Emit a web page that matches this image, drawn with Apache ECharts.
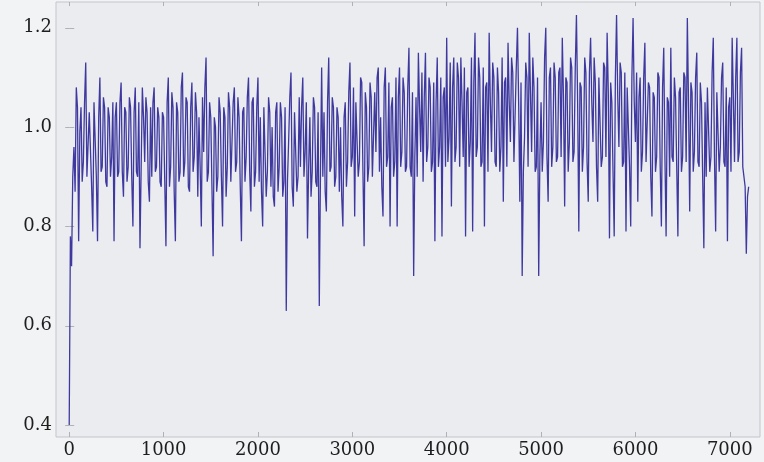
<!DOCTYPE html>
<html>
<head>
<meta charset="utf-8">
<script src="https://cdn.jsdelivr.net/npm/echarts@6/dist/echarts.min.js"></script>
<style>
  html, body { margin: 0; padding: 0; background: #f2f3f5; }
  #chart { width: 764px; height: 462px; }
</style>
</head>
<body>
<div id="chart"></div>
<script>
// values, 1000 steps per segment.
// "a" arrays sit on multiples of 25, "b" arrays halfway between them
const step = 12.5;
const seg0a = [0.40, 0.72, 0.96, 1.08, 0.77, 1.04, 0.93, 1.13, 0.90, 1.03,
  0.79, 1.05, 0.77, 1.10, 0.92, 1.04, 0.88, 1.02, 0.94, 0.77,
  1.05, 0.91, 1.09, 0.86, 1.03, 0.92, 1.04, 0.80, 1.08, 0.90,
  0.756, 1.08, 0.93, 1.03, 0.85, 0.90, 1.08, 0.92, 1.02, 0.88];
const seg0b = [0.78, 0.90, 0.87, 1.04, 0.99, 0.89, 1.05, 0.90, 1.03, 0.88,
  1.05, 0.90, 1.02, 0.91, 1.06, 0.89, 1.04, 0.90, 1.05, 1.02,
  0.90, 1.05, 0.91, 1.04, 0.89, 1.06, 0.90, 1.03, 0.91, 1.05,
  0.92, 1.02, 1.06, 0.89, 1.04, 1.05, 0.91, 1.04, 0.89, 1.03];
const seg1a = [1.02, 0.76, 1.10, 0.92, 1.04, 0.77, 1.03, 0.91, 1.11, 0.93,
  1.05, 0.87, 1.09, 0.94, 1.03, 1.02, 0.80, 0.95, 1.14, 0.91,
  1.02, 0.74, 1.00, 0.90, 1.03, 0.80, 1.02, 0.92, 1.04, 0.89,
  1.08, 0.93, 1.02, 0.77, 1.04, 0.94, 1.10, 0.83, 1.06, 0.91];
const seg1b = [0.89, 1.05, 0.88, 1.07, 0.87, 1.05, 0.89, 1.08, 0.90, 1.06,
  0.88, 1.04, 0.91, 1.07, 0.86, 0.92, 1.06, 1.08, 0.89, 1.05,
  0.88, 1.02, 0.87, 1.06, 0.90, 1.04, 0.86, 1.07, 0.89, 1.05,
  0.91, 1.06, 0.88, 1.03, 0.89, 1.06, 0.91, 1.05, 0.88, 1.04];
const seg2a = [1.10, 1.02, 0.80, 1.04, 0.91, 1.03, 1.00, 0.84, 1.05, 0.92,
  1.02, 0.89, 0.63, 0.97, 1.11, 0.84, 1.03, 0.90, 0.92, 1.10,
  0.95, 0.776, 1.02, 0.91, 1.04, 0.88, 0.64, 1.12, 1.03, 0.83,
  1.14, 0.92, 1.04, 0.90, 1.02, 1.00, 0.80, 1.05, 0.93, 1.13];
const seg2b = [0.89, 0.87, 1.04, 0.86, 1.06, 0.88, 0.86, 1.03, 0.87, 1.05,
  0.86, 1.04, 0.89, 1.06, 0.88, 1.03, 0.87, 1.06, 1.04, 0.90,
  1.05, 0.92, 0.86, 1.06, 0.89, 1.03, 0.91, 0.90, 0.87, 1.05,
  0.91, 1.06, 0.88, 1.04, 0.87, 0.86, 1.02, 0.88, 1.07, 0.92];
const seg3a = [0.94, 0.82, 1.05, 0.93, 1.09, 0.76, 1.04, 0.92, 1.06, 0.90,
  0.95, 1.12, 1.02, 0.82, 1.12, 0.94, 0.80, 1.06, 0.93, 0.80,
  1.12, 0.95, 1.07, 0.92, 1.16, 0.90, 0.70, 1.06, 1.15, 0.95,
  0.89, 1.15, 0.96, 1.08, 0.93, 0.77, 1.14, 0.96, 0.78, 1.08];
const seg3b = [1.08, 1.05, 0.90, 1.10, 0.91, 1.07, 0.89, 1.09, 0.90, 1.07,
  1.10, 0.91, 0.88, 1.08, 0.92, 1.09, 1.04, 0.90, 1.10, 1.06,
  0.92, 1.10, 0.91, 1.08, 0.92, 1.07, 0.94, 0.90, 1.04, 1.11,
  1.06, 0.93, 1.10, 0.91, 1.09, 1.05, 0.92, 1.10, 1.06, 0.92];
const seg4a = [1.18, 0.98, 0.84, 1.14, 0.96, 1.10, 1.14, 0.94, 0.78, 1.08,
  0.97, 0.79, 1.19, 0.96, 1.10, 0.93, 0.80, 1.09, 1.19, 0.95,
  1.10, 0.92, 1.07, 0.96, 0.85, 1.10, 1.17, 0.97, 1.11, 0.93,
  1.20, 0.85, 0.70, 0.98, 1.10, 1.19, 0.95, 1.08, 0.92, 0.70];
const seg4b = [0.93, 1.13, 1.08, 0.93, 1.13, 0.92, 1.05, 1.12, 1.07, 0.92,
  1.14, 1.09, 0.94, 1.14, 0.92, 1.12, 1.08, 0.91, 1.05, 1.13,
  0.93, 1.12, 0.91, 1.14, 1.09, 0.92, 1.05, 1.14, 0.93, 1.12,
  1.05, 1.09, 0.91, 1.13, 0.92, 1.07, 1.14, 0.91, 1.10, 0.94];
const seg5a = [1.05, 0.97, 1.20, 0.85, 1.12, 0.96, 1.10, 0.94, 1.12, 1.18,
  0.84, 1.09, 0.97, 1.12, 0.95, 1.226, 0.79, 1.08, 0.96, 1.11,
  0.85, 1.18, 0.97, 1.09, 0.85, 1.10, 0.94, 1.12, 1.19, 0.776,
  1.05, 0.78, 1.226, 0.96, 1.11, 0.93, 0.79, 1.08, 0.80, 1.22];
const seg5b = [0.91, 1.14, 0.94, 1.10, 0.92, 1.13, 0.93, 1.11, 0.94, 1.06,
  1.10, 0.91, 1.14, 0.93, 1.12, 1.05, 1.09, 0.91, 1.14, 0.93,
  1.11, 1.05, 1.14, 0.92, 1.10, 0.92, 1.13, 0.94, 1.07, 1.09,
  0.91, 1.10, 1.06, 1.13, 0.92, 1.11, 1.08, 0.92, 1.10, 1.05];
const seg6a = [0.97, 0.85, 1.10, 0.95, 1.17, 0.93, 1.08, 0.82, 1.06, 0.94,
  1.10, 0.80, 1.16, 0.78, 1.05, 1.16, 0.93, 1.06, 0.78, 1.08,
  0.94, 1.10, 1.22, 0.83, 1.07, 0.95, 1.15, 0.92, 1.05, 0.756,
  0.90, 1.08, 0.94, 1.18, 0.79, 1.07, 0.96, 1.13, 0.92, 0.77,
  1.06, 1.18, 0.93, 1.18, 0.95, 1.16, 0.90, 0.745, 0.88];
const seg6b = [1.11, 1.06, 0.91, 1.10, 0.93, 1.09, 0.90, 1.07, 0.91, 1.11,
  0.92, 1.08, 0.94, 1.06, 0.90, 0.94, 1.10, 0.92, 1.07, 0.91,
  1.11, 0.93, 1.05, 1.09, 0.91, 1.10, 0.93, 1.09, 0.90, 1.05,
  1.08, 0.91, 1.11, 0.94, 1.07, 0.91, 1.10, 0.93, 1.08, 1.04,
  0.91, 1.06, 1.10, 0.93, 1.11, 0.92, 0.88, 0.86];

const xTicks = [0, 1000, 2000, 3000, 4000, 5000, 6000, 7000];
const yTicks = [0.4, 0.6, 0.8, 1.0, 1.2];

// weave each segment's two arrays back into one run
function weave(a, b) {
  const out = [];
  a.forEach((v, i) => {
    out.push(v);
    if (i < b.length) out.push(b[i]);
  });
  return out;
}

const values = [].concat(
  weave(seg0a, seg0b), weave(seg1a, seg1b), weave(seg2a, seg2b),
  weave(seg3a, seg3b), weave(seg4a, seg4b), weave(seg5a, seg5b),
  weave(seg6a, seg6b)
);
const points = values.map((v, i) => [i * step, v]);

// only serif face that resolves in the sandbox
const serif = "DejaVu Serif";
const frameColor = "#c4c5ca";
const tickColor = "#b0b1b6";

const chart = echarts.init(document.getElementById("chart"));

chart.setOption({
  animation: false,
  backgroundColor: "#f2f3f5",
  grid: {
    left: 56,
    right: 4,
    top: 2,
    bottom: 25,
    show: true,
    borderColor: frameColor,
    borderWidth: 1,
    backgroundColor: "#eaecf0",
  },
  xAxis: [
    {
      type: "value",
      min: -140,
      max: 7320,
      axisLine: { show: false },
      splitLine: { show: false },
      axisTick: {
        show: true,
        inside: true,
        length: 5,
        customValues: xTicks,
        lineStyle: { color: tickColor },
      },
      axisLabel: {
        customValues: xTicks,
        margin: 4,
        fontFamily: serif,
        fontSize: 18,
        color: "#1e1e1e",
        formatter: (v) => String(v),
      },
    },
    {
      type: "value",
      position: "top",
      min: -140,
      max: 7320,
      axisLine: { show: false },
      splitLine: { show: false },
      axisLabel: { show: false },
      axisTick: {
        show: true,
        inside: true,
        length: 4,
        customValues: xTicks,
        lineStyle: { color: tickColor },
      },
    },
  ],
  yAxis: [
    {
      type: "value",
      min: 0.376,
      max: 1.252,
      axisLine: { show: false },
      splitLine: { show: false },
      axisTick: {
        show: true,
        inside: true,
        length: 5,
        customValues: yTicks,
        lineStyle: { color: tickColor },
      },
      axisLabel: {
        customValues: yTicks,
        margin: 4,
        fontFamily: serif,
        fontSize: 18,
        color: "#1e1e1e",
        formatter: (v) => v.toFixed(1),
      },
    },
    {
      type: "value",
      position: "right",
      min: 0.376,
      max: 1.252,
      axisLine: { show: false },
      splitLine: { show: false },
      axisLabel: { show: false },
      axisTick: {
        show: true,
        inside: true,
        length: 4,
        customValues: yTicks,
        lineStyle: { color: tickColor },
      },
    },
  ],
  series: [
    {
      type: "line",
      data: points,
      xAxisIndex: 0,
      yAxisIndex: 0,
      showSymbol: false,
      symbol: "none",
      sampling: null,
      lineStyle: { color: "#3f399f", width: 1.3 },
      emphasis: { disabled: true },
    },
  ],
});
</script>
</body>
</html>
